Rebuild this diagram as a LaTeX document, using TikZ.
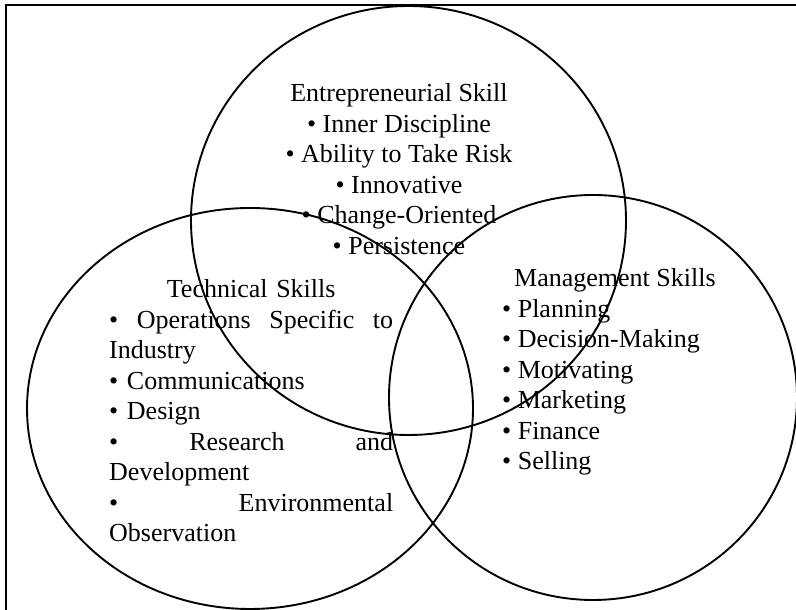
\documentclass[tikz,border=0pt]{standalone}
\usepackage{fontspec}
\setmainfont{Liberation Serif}
\usetikzlibrary{shapes.geometric}
\begin{document}
\begin{tikzpicture}[x=1pt,y=1pt,
  ring/.style={draw,ellipse,line width=1.9pt,inner sep=0pt},
  label/.style={inner sep=0pt,font=\fontsize{26}{30.5}\selectfont}]
\useasboundingbox (0,0) rectangle (796,610);
\clip (0,0) rectangle (796,610);
% frame edges
\coordinate (tl) at (6,605);
\coordinate (tr) at (796,605);
\coordinate (bl) at (6,0);
\draw[line width=1.9pt] (bl) -- (tl) -- (tr);
% three overlapping skill sets
\node[ring,minimum width=435pt,minimum height=429pt] (ent) at (408.5,389.5) {};
\node[ring,minimum width=446pt,minimum height=401pt] (tech) at (250,201.5) {};
\node[ring,minimum width=408pt,minimum height=405pt] (mgmt) at (593,212.5) {};
% entrepreneurial skills (anchored at the baseline of the last line)
\node[label,anchor=base,align=center] (enttxt) at (399,355.5) {Entrepreneurial Skill\\
\textbullet{} Inner Discipline\\
\textbullet{} Ability to Take Risk\\
\textbullet{} Innovative\\
\textbullet{} Change-Oriented\\
\textbullet{} Persistence};
% technical skills (anchored at the baseline of the first line)
\node[label,anchor=base west,align=left,text width=284pt] (techtxt) at (109,312) {\makebox[284pt][c]{Technical Skills}\\
\makebox[284pt][s]{\textbullet\hfill Operations\hfill Specific\hfill to}\\
Industry\\
\textbullet{} Communications\\
\textbullet{} Design\\
\makebox[284pt][s]{\textbullet\hfill Research\hfill and}\\
Development\\
\makebox[284pt][s]{\textbullet\hfill Environmental}\\
Observation};
% management skills (anchored at the baseline of the last line)
\node[label,anchor=base west,align=left] (mgmttxt) at (502,140) {\hspace*{12pt}Management Skills\\
\textbullet{} Planning\\
\textbullet{} Decision-Making\\
\textbullet{} Motivating\\
\textbullet{} Marketing\\
\textbullet{} Finance\\
\textbullet{} Selling};
\end{tikzpicture}
\end{document}
